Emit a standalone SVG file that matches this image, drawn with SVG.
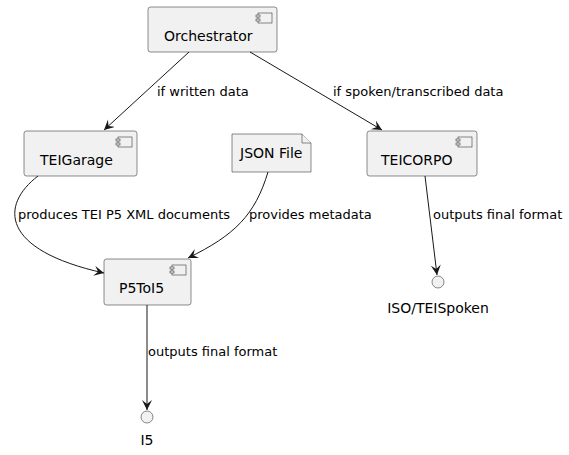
<svg xmlns="http://www.w3.org/2000/svg" width="569" height="455" viewBox="0 0 569 455">
<style>
.box{fill:#F1F1F1;stroke:#181818;stroke-width:0.5}
.icon{fill:#F1F1F1;stroke:#181818;stroke-width:0.5}
.nt{font-family:"DejaVu Sans",sans-serif;font-size:14px;fill:#000}
.et{font-family:"DejaVu Sans",sans-serif;font-size:13px;fill:#000}
.edge{fill:none;stroke:#181818;stroke-width:1}
</style>
<defs>
<marker id="arr" markerUnits="userSpaceOnUse" markerWidth="12" markerHeight="12" refX="10" refY="5" orient="auto">
<path d="M0,0 L10,5 L0,10 L4,5 Z" fill="#181818"/>
</marker>
</defs>
<g id="Orchestrator">
<rect class="box" x="148" y="7" width="129" height="45" rx="2.5"/>
<rect class="icon" x="258" y="13" width="14" height="10"/>
<rect class="icon" x="256" y="15" width="4" height="2"/>
<rect class="icon" x="256" y="19" width="4" height="2"/>
<text class="nt" x="164" y="41">Orchestrator</text>
</g>
<g id="TEIGarage">
<rect class="box" x="24" y="131" width="113" height="45" rx="2.5"/>
<rect class="icon" x="118" y="137" width="14" height="10"/>
<rect class="icon" x="116" y="139" width="4" height="2"/>
<rect class="icon" x="116" y="143" width="4" height="2"/>
<text class="nt" x="40" y="165">TEIGarage</text>
</g>
<g id="JSONFile">
<path class="box" d="M232,134 L302,134 L311,143 L311,172 L232,172 Z"/>
<path class="box" d="M302,134 L302,143 L311,143" fill="none"/>
<text class="nt" x="240" y="158">JSON File</text>
</g>
<g id="TEICORPO">
<rect class="box" x="367" y="131" width="110" height="45" rx="2.5"/>
<rect class="icon" x="458" y="137" width="14" height="10"/>
<rect class="icon" x="456" y="139" width="4" height="2"/>
<rect class="icon" x="456" y="143" width="4" height="2"/>
<text class="nt" x="381" y="165">TEICORPO</text>
</g>
<g id="P5ToI5">
<rect class="box" x="104" y="259" width="87" height="46" rx="2.5"/>
<rect class="icon" x="172" y="265" width="14" height="10"/>
<rect class="icon" x="170" y="267" width="4" height="2"/>
<rect class="icon" x="170" y="271" width="4" height="2"/>
<text class="nt" x="119" y="293">P5ToI5</text>
</g>
<g id="ISOTEISpoken">
<circle class="box" cx="438" cy="282" r="6"/>
<text class="nt" x="438" y="313" text-anchor="middle">ISO/TEISpoken</text>
</g>
<g id="I5">
<circle class="box" cx="147" cy="417" r="6"/>
<text class="nt" x="147" y="445" text-anchor="middle">I5</text>
</g>
<g id="connectors">
<path class="edge" d="M189,52 L104,130" marker-end="url(#arr)"/>
<text class="et" x="157" y="96">if written data</text>
<path class="edge" d="M250,52 L382,130" marker-end="url(#arr)"/>
<text class="et" x="333" y="96">if spoken/transcribed data</text>
<path class="edge" d="M38,176 C0,205 0,250 104,273" marker-end="url(#arr)"/>
<text class="et" x="18" y="219">produces TEI P5 XML documents</text>
<path class="edge" d="M268,172 C255,215 235,235 188,258" marker-end="url(#arr)"/>
<text class="et" x="249" y="219">provides metadata</text>
<path class="edge" d="M425,176 L437,275" marker-end="url(#arr)"/>
<text class="et" x="433" y="219">outputs final format</text>
<path class="edge" d="M147,305 L147,410" marker-end="url(#arr)"/>
<text class="et" x="148" y="356">outputs final format</text>
</g>
</svg>
